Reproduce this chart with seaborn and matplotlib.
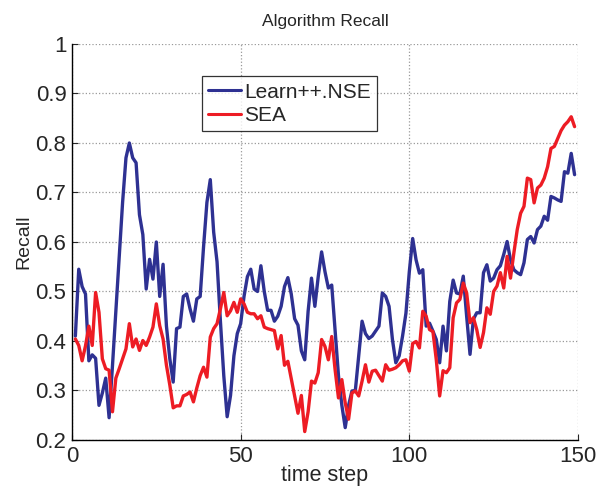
import numpy as np
import pandas as pd
import matplotlib
matplotlib.use("Agg")
import matplotlib.pyplot as plt
import seaborn as sns

# time steps
steps = list(range(1, 150))

# Learn++.NSE recall
learn_nse = [
    0.410, 0.545, 0.510, 0.495, 0.360, 0.372, 0.365, 0.270, 0.295, 0.325,
    0.245, 0.350, 0.460, 0.570, 0.680, 0.770, 0.800, 0.770, 0.760, 0.655,
    0.615, 0.505, 0.565, 0.525, 0.600, 0.490, 0.555, 0.430, 0.364, 0.317,
    0.425, 0.428, 0.490, 0.495, 0.465, 0.440, 0.485, 0.490, 0.590, 0.680,
    0.726, 0.620, 0.560, 0.440, 0.330, 0.247, 0.290, 0.370, 0.415, 0.435,
    0.490, 0.530, 0.545, 0.505, 0.500, 0.552, 0.500, 0.462, 0.462, 0.440,
    0.450, 0.470, 0.510, 0.528, 0.495, 0.445, 0.432, 0.380, 0.362, 0.460,
    0.527, 0.470, 0.530, 0.580, 0.540, 0.507, 0.513, 0.420, 0.330, 0.270,
    0.225, 0.270, 0.299, 0.300, 0.370, 0.440, 0.415, 0.405, 0.410, 0.420,
    0.430, 0.497, 0.490, 0.470, 0.403, 0.356, 0.370, 0.410, 0.456, 0.540,
    0.607, 0.564, 0.537, 0.544, 0.430, 0.436, 0.420, 0.403, 0.356, 0.430,
    0.380, 0.480, 0.523, 0.497, 0.495, 0.531, 0.450, 0.373, 0.444, 0.457,
    0.457, 0.538, 0.554, 0.521, 0.527, 0.544, 0.552, 0.575, 0.601, 0.564,
    0.544, 0.538, 0.534, 0.558, 0.605, 0.611, 0.598, 0.625, 0.632, 0.652,
    0.644, 0.692, 0.689, 0.685, 0.682, 0.742, 0.739, 0.779, 0.736,
]

# SEA recall
sea = [
    0.404, 0.391, 0.360, 0.390, 0.430, 0.391, 0.498, 0.458, 0.364, 0.344,
    0.341, 0.257, 0.325, 0.344, 0.364, 0.384, 0.435, 0.388, 0.404, 0.381,
    0.401, 0.391, 0.408, 0.428, 0.475, 0.431, 0.404, 0.351, 0.311, 0.265,
    0.269, 0.269, 0.289, 0.292, 0.297, 0.277, 0.305, 0.330, 0.347, 0.327,
    0.408, 0.425, 0.435, 0.465, 0.498, 0.451, 0.461, 0.478, 0.458, 0.485,
    0.475, 0.458, 0.455, 0.455, 0.445, 0.451, 0.428, 0.425, 0.423, 0.421,
    0.384, 0.411, 0.351, 0.359, 0.324, 0.290, 0.254, 0.290, 0.217, 0.257,
    0.319, 0.315, 0.336, 0.403, 0.389, 0.362, 0.409, 0.342, 0.285, 0.322,
    0.275, 0.242, 0.295, 0.299, 0.289, 0.319, 0.352, 0.317, 0.339, 0.341,
    0.330, 0.319, 0.352, 0.341, 0.343, 0.346, 0.352, 0.360, 0.362, 0.339,
    0.395, 0.399, 0.386, 0.460, 0.450, 0.423, 0.419, 0.362, 0.289, 0.340,
    0.336, 0.346, 0.447, 0.477, 0.484, 0.517, 0.497, 0.437, 0.447, 0.423,
    0.387, 0.417, 0.467, 0.454, 0.500, 0.511, 0.538, 0.507, 0.571, 0.527,
    0.578, 0.625, 0.658, 0.672, 0.729, 0.726, 0.679, 0.709, 0.715, 0.729,
    0.752, 0.789, 0.793, 0.809, 0.825, 0.836, 0.843, 0.853, 0.833,
]

series_names = ["Learn++.NSE", "SEA"]
x_ticks = [0, 50, 100, 150]
y_ticks = [0.2, 0.3, 0.4, 0.5, 0.6, 0.7, 0.8, 0.9, 1.0]
y_labels = ["0.2", "0.3", "0.4", "0.5", "0.6", "0.7", "0.8", "0.9", "1"]

df = pd.DataFrame({
    "time step": steps * 2,
    "Recall": learn_nse + sea,
    "algo": [series_names[0]] * len(steps) + [series_names[1]] * len(steps),
})

sns.set_style("ticks")
plt.rcParams["font.family"] = ["Liberation Sans", "DejaVu Sans"]

fig = plt.figure(figsize=(5.97, 4.93), dpi=100)
ax = fig.add_axes([0.1206, 0.1075, 0.8475, 0.8033])

sns.lineplot(data=df, x="time step", y="Recall", hue="algo",
             palette=["#2E3192", "#ED1C24"], linewidth=2.4, ax=ax)

ax.set_xlim(0, 150)
ax.set_ylim(0.2, 1.0)
ax.set_xticks(x_ticks)
ax.set_yticks(y_ticks)
ax.set_yticklabels(y_labels)
ax.tick_params(direction="in", labelsize=16, length=4, width=0.8, pad=4)
ax.grid(True, linestyle=":", color="#999999", linewidth=0.9)
ax.spines["top"].set_visible(False)
ax.spines["right"].set_visible(False)
for s in ["left", "bottom"]:
    ax.spines[s].set_linewidth(1.0)
    ax.spines[s].set_color("black")

ax.set_title("Algorithm Recall", fontsize=12.5, pad=13)
ax.set_xlabel("time step", fontsize=15.5, labelpad=-1)
ax.set_ylabel("Recall", fontsize=14, labelpad=2)

leg = ax.legend(loc="upper left", bbox_to_anchor=(0.256, 0.918), fontsize=15,
                frameon=True, fancybox=False, edgecolor="black",
                handlelength=1.6, borderpad=0.3, labelspacing=0.2,
                handletextpad=0.15, borderaxespad=0)
leg.get_frame().set_linewidth(0.9)
for line in leg.get_lines():
    line.set_linewidth(2.2)

fig.savefig("out.png", dpi=100)
